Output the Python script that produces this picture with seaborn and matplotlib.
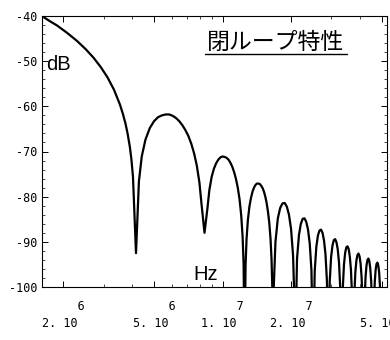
import numpy as np
import pandas as pd
import matplotlib
matplotlib.use("Agg")
import matplotlib.pyplot as plt
import seaborn as sns
from matplotlib.ticker import FixedLocator, FixedFormatter, MultipleLocator, LogLocator, NullFormatter
from matplotlib.lines import Line2D

# ---------------- data ----------------
# frequency in units of the null spacing (nulls every 50/12 MHz), level in dB
null_spacing_hz = 50e6 / 12

main_lobe_f = [0.386, 0.42, 0.45, 0.5, 0.55, 0.6, 0.65, 0.7, 0.75, 0.8, 0.85, 0.875,
               0.9, 0.92, 0.94, 0.955, 0.97, 1.0]
main_lobe_db = [-40.0, -41.2, -42.1, -43.8, -45.5, -47.3, -49.2, -51.3, -53.6, -56.3, -59.6, -61.6,
                -63.9, -66.2, -69.0, -71.8, -75.6, -92.5]

lobe1_f = [1.03, 1.06, 1.1, 1.15, 1.2, 1.25, 1.3, 1.35, 1.4, 1.45, 1.5, 1.55, 1.6, 1.65,
           1.7, 1.75, 1.8, 1.85, 1.9, 1.94, 2.0]
lobe1_db = [-76.6, -71.1, -67.4, -64.8, -63.3, -62.4, -62.0, -61.8, -61.8, -62.1, -62.6, -63.3,
            -64.2, -65.3, -66.6, -68.3, -70.4, -73.1, -76.9, -81.6, -88.0]

lobe2_f = [2.06, 2.1, 2.15, 2.2, 2.25, 2.3, 2.35, 2.4, 2.45, 2.5, 2.55, 2.6, 2.65, 2.7,
           2.75, 2.8, 2.85, 2.9, 2.94, 2.97, 3.0]
lobe2_db = [-82.6, -78.6, -75.6, -73.8, -72.6, -71.8, -71.3, -71.1, -71.2, -71.4, -71.8, -72.5,
            -73.4, -74.6, -76.1, -78.0, -80.5, -84.2, -88.8, -94.9, -115.0]

lobe3_f = [3.03, 3.06, 3.1, 3.15, 3.2, 3.25, 3.3, 3.35, 3.4, 3.45, 3.5, 3.55, 3.6, 3.65,
           3.7, 3.75, 3.8, 3.85, 3.9, 3.94, 3.97, 4.0]
lobe3_db = [-95.2, -89.4, -85.3, -82.2, -80.3, -78.9, -78.0, -77.4, -77.1, -77.1, -77.2, -77.6,
            -78.1, -78.9, -80.0, -81.4, -83.3, -85.7, -89.3, -93.8, -99.9, -115.0]

far_lobes_f = [4.03, 4.1, 4.2, 4.3, 4.4, 4.5, 4.6, 4.7, 4.8, 4.9, 4.97, 5.0,
               5.1, 5.2, 5.3, 5.4, 5.5, 5.6, 5.7, 5.8, 5.9, 6.0,
               6.1, 6.2, 6.3, 6.4, 6.5, 6.6, 6.7, 6.8, 6.9, 7.0,
               7.1, 7.2, 7.3, 7.4, 7.5, 7.6, 7.7, 7.8, 7.9, 8.0,
               8.1, 8.2, 8.3, 8.4, 8.5, 8.6, 8.7, 8.8, 8.9, 9.0,
               9.1, 9.2, 9.3, 9.4, 9.5, 9.6, 9.7, 9.8, 9.9, 10.0,
               10.1, 10.2, 10.3, 10.4, 10.5, 10.6, 10.7, 10.8, 10.9, 11.0,
               11.1, 11.2, 11.3, 11.4, 11.5, 11.6, 11.7, 11.8, 11.9, 12.0]
far_lobes_db = [-100.0, -90.0, -84.8, -82.5, -81.5, -81.4, -82.2, -84.0, -87.1, -93.1, -103.7, -115.0,
                -93.7, -88.5, -86.0, -84.9, -84.8, -85.6, -87.3, -90.4, -96.3, -115.0,
                -96.4, -91.1, -88.6, -87.5, -87.3, -88.0, -89.7, -92.7, -98.6, -115.0,
                -98.7, -93.3, -90.8, -89.6, -89.4, -90.1, -91.7, -94.7, -100.5, -115.0,
                -100.4, -95.0, -92.4, -91.2, -91.0, -91.6, -93.3, -96.2, -102.0, -115.0,
                -102.1, -96.7, -94.1, -92.9, -92.6, -93.2, -94.8, -97.8, -103.5, -115.0,
                -103.2, -97.8, -95.2, -94.0, -93.7, -94.3, -95.9, -98.8, -104.6, -115.0,
                -104.2, -98.8, -96.1, -94.9, -94.6, -95.2, -96.7, -99.7, -105.4, -115.0]

xtick_values = [2e6, 5e6, 1e7, 2e7, 5e7]
xtick_labels = ["     6\n2. 10", "     6\n5. 10", "     7\n1. 10", "     7\n2. 10", "     7\n5. 10"]
ytick_values = [-100, -90, -80, -70, -60, -50, -40]
ytick_labels = ["-100", "-90", "-80", "-70", "-60", "-50", "-40"]
title_text = "閉ループ特性"
y_unit_text = "dB"
x_unit_text = "Hz"

# ---------------- figure ----------------
sns.set_theme(style="white")
plt.rcParams['font.family'] = ['DejaVu Sans']

W, H = 390, 340
fig = plt.figure(figsize=(W / 100, H / 100), dpi=100)
fig.patch.set_facecolor("white")
ax = fig.add_axes([42 / W, 1 - 287 / H, 345 / W, 271 / H])
ax.set_facecolor("white")

all_f = main_lobe_f + lobe1_f + lobe2_f + lobe3_f + far_lobes_f
all_db = main_lobe_db + lobe1_db + lobe2_db + lobe3_db + far_lobes_db
df = pd.DataFrame({"freq": np.array(all_f) * null_spacing_hz, "db": all_db})
sns.lineplot(data=df, x="freq", y="db", ax=ax, color="black", linewidth=1.6,
             sort=True, estimator=None)

ax.set_xscale("log")
ax.set_xlim(1.61e6, 5.28e7)
ax.set_ylim(-100, -40)
ax.set_xlabel("")
ax.set_ylabel("")

for s in ax.spines.values():
    s.set_color("black")
    s.set_linewidth(0.8)
    s.set_visible(True)

ax.xaxis.set_major_locator(FixedLocator(xtick_values))
ax.xaxis.set_major_formatter(FixedFormatter(xtick_labels))
ax.xaxis.set_minor_locator(LogLocator(base=10, subs=np.arange(1, 10)))
ax.xaxis.set_minor_formatter(NullFormatter())
ax.yaxis.set_major_locator(FixedLocator(ytick_values))
ax.yaxis.set_major_formatter(FixedFormatter(ytick_labels))
ax.yaxis.set_minor_locator(MultipleLocator(2))

ax.tick_params(which="both", direction="in", top=True, right=True, bottom=True, left=True,
               color="black")
ax.tick_params(which="major", length=4, width=0.7)
ax.tick_params(which="minor", length=2, width=0.5)
ax.tick_params(axis="y", which="major", pad=3)
ax.tick_params(axis="x", which="major", pad=9)

for lab in ax.get_yticklabels():
    lab.set_fontfamily("DejaVu Sans Mono")
    lab.set_fontsize(8.5)
    lab.set_color("black")
for lab in ax.get_xticklabels():
    lab.set_fontfamily("DejaVu Sans Mono")
    lab.set_fontsize(8.5)
    lab.set_color("black")
    lab.set_multialignment("left")
    lab.set_linespacing(1.45)

ax.text(0.012, 0.80, y_unit_text, transform=ax.transAxes, ha="left", va="baseline",
        fontsize=14.5, family=["Liberation Sans", "DejaVu Sans"], color="black")
ax.text(0.438, 0.026, x_unit_text, transform=ax.transAxes, ha="left", va="baseline",
        fontsize=14.5, family=["Liberation Sans", "DejaVu Sans"], color="black")

title = fig.text(276 / W, 1 - 42 / H, title_text, ha="center", va="center",
                 fontsize=16.5, family=["Noto Sans CJK JP", "DejaVu Sans"], color="black")

fig.canvas.draw()
bb = title.get_window_extent(renderer=fig.canvas.get_renderer())
uy = 1 - 53.5 / H
fig.add_artist(Line2D([(bb.x0 - 2) / W, (bb.x1 + 2) / W], [uy, uy],
                      transform=fig.transFigure, color="black", linewidth=1.0))

fig.savefig("out.png", dpi=100, facecolor="white")
